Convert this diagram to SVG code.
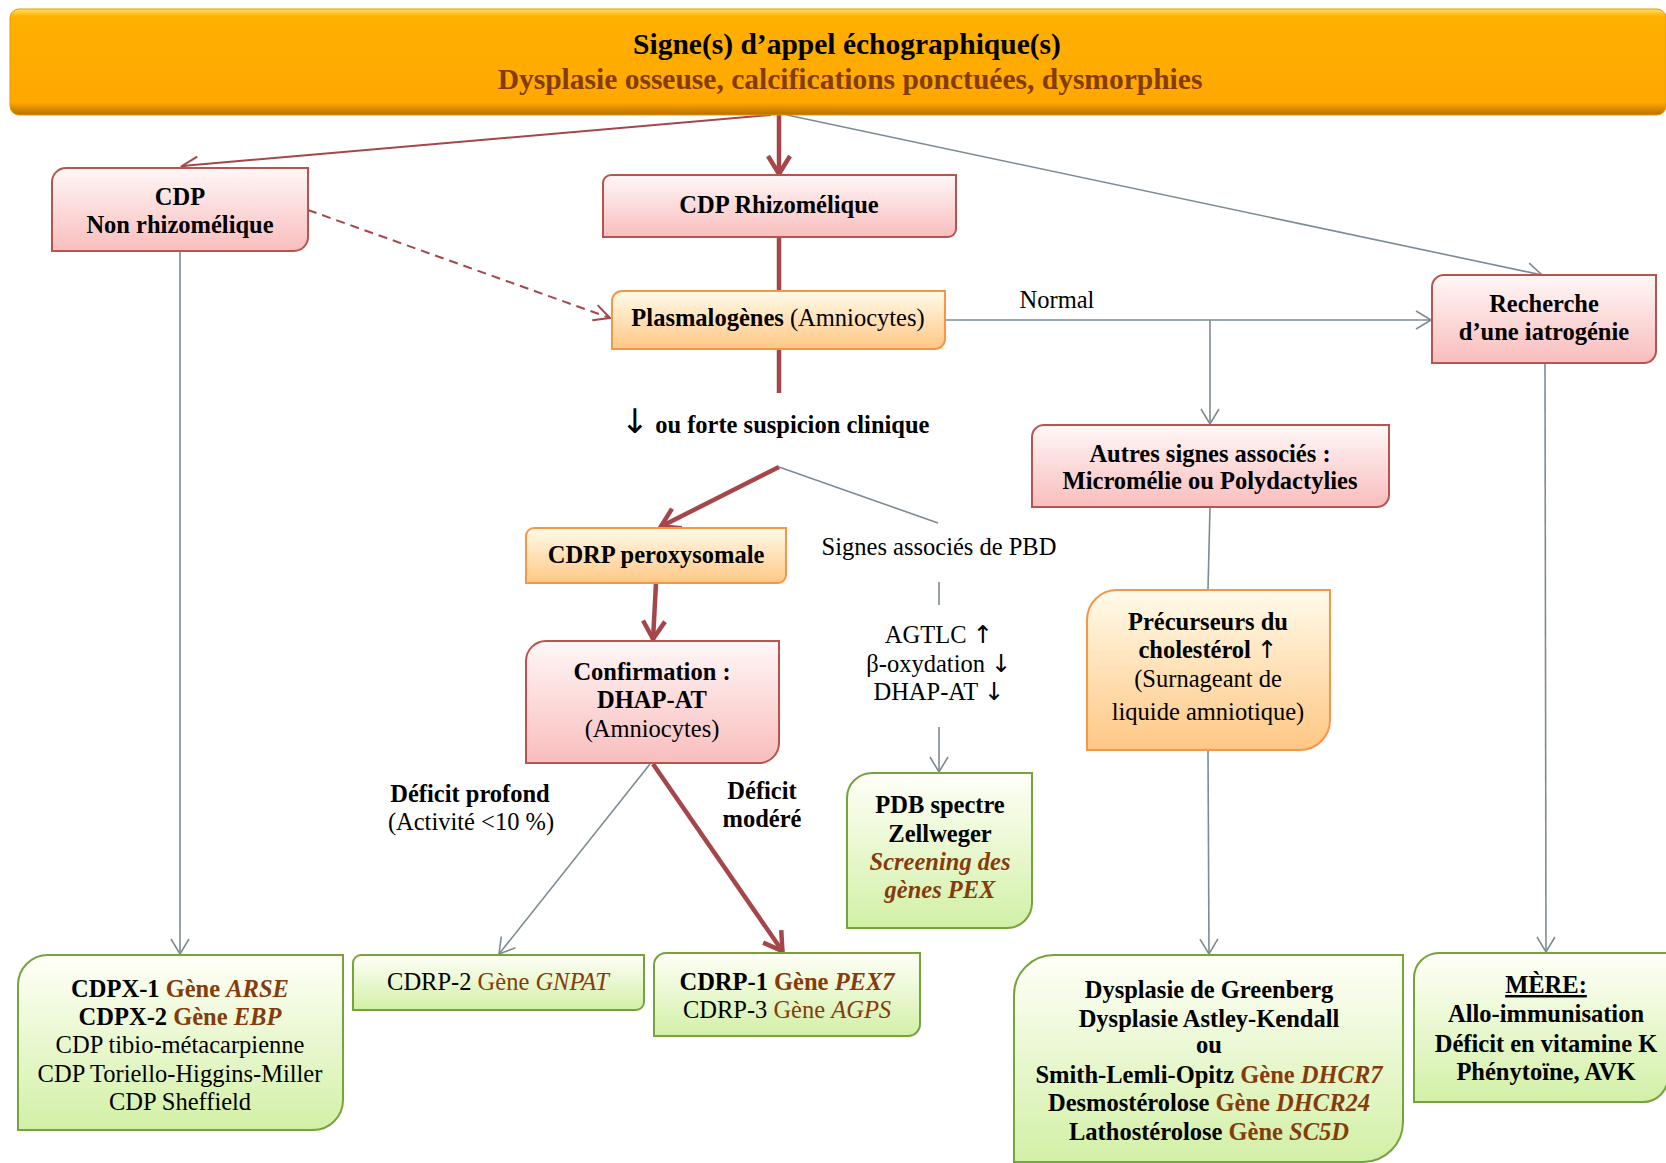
<svg xmlns="http://www.w3.org/2000/svg" width="1666" height="1163" viewBox="0 0 1666 1163">
<style>
.t{font-family:"Liberation Serif","Times New Roman",serif;font-size:24.5px;text-anchor:middle;fill:#000}
.b{font-weight:bold}
.br{fill:#843C0C}
.i{font-style:italic}
.ar{font-family:"DejaVu Sans",sans-serif;font-weight:normal}
.pink{fill:url(#pinkG);stroke:#B95350;stroke-width:2}
.orange{fill:url(#orangeG);stroke:#F79646;stroke-width:2}
.green{fill:url(#greenG);stroke:#77A33D;stroke-width:2}
.gray{stroke:#7D8B95;stroke-width:1.6;fill:none}
.redthin{stroke:#A5474A;stroke-width:2;fill:none}
.redthick{stroke:#A5474A;stroke-width:4.5;fill:none}
</style>
<defs>
<linearGradient id="pinkG" x1="0" y1="0" x2="0" y2="1"><stop offset="0" stop-color="#FFF7F7"/><stop offset="1" stop-color="#F9BDBD"/></linearGradient>
<linearGradient id="orangeG" x1="0" y1="0" x2="0" y2="1"><stop offset="0" stop-color="#FFFBEA"/><stop offset="1" stop-color="#FFC784"/></linearGradient>
<linearGradient id="greenG" x1="0" y1="0" x2="0" y2="1"><stop offset="0" stop-color="#FFFFF8"/><stop offset="1" stop-color="#D2F0A6"/></linearGradient>
<linearGradient id="bannerG" x1="0" y1="0" x2="0" y2="1"><stop offset="0" stop-color="#FFE066"/><stop offset="0.07" stop-color="#FFB000"/><stop offset="0.88" stop-color="#FFA800"/><stop offset="1" stop-color="#B86E00"/></linearGradient>
<marker id="aGray" markerUnits="userSpaceOnUse" markerWidth="20" markerHeight="22" refX="16" refY="10" orient="auto"><path d="M1,1 L16,10 L1,19" fill="none" stroke="#7D8B95" stroke-width="1.6"/></marker>
<marker id="aRed" markerUnits="userSpaceOnUse" markerWidth="22" markerHeight="22" refX="17" refY="10" orient="auto"><path d="M1,2 L17,10 L1,18" fill="none" stroke="#A5474A" stroke-width="2"/></marker>
<marker id="aRedT" markerUnits="userSpaceOnUse" markerWidth="26" markerHeight="28" refX="21" refY="13" orient="auto"><path d="M2,2 L20,13 L2,24" fill="none" stroke="#A5474A" stroke-width="4.5"/></marker>
</defs>

<g id="connectors">
<line class="redthin" x1="771" y1="115" x2="182" y2="166" marker-end="url(#aRed)"/>
<line class="redthick" x1="779" y1="115" x2="779" y2="175" marker-end="url(#aRedT)"/>
<line class="gray" x1="787" y1="115" x2="1542" y2="275" marker-end="url(#aGray)"/>
<line class="redthick" x1="779" y1="237" x2="779" y2="291"/>
<line class="redthick" x1="779" y1="349" x2="779" y2="393"/>
<line class="redthick" x1="779" y1="467" x2="660" y2="527" marker-end="url(#aRedT)"/>
<line class="gray" x1="779" y1="467" x2="938" y2="523"/>
<line class="redthick" x1="656" y1="583" x2="653" y2="640" marker-end="url(#aRedT)"/>
<line class="gray" x1="650" y1="764" x2="499" y2="954" marker-end="url(#aGray)"/>
<line class="redthick" x1="653" y1="764" x2="783" y2="952" marker-end="url(#aRedT)"/>
<line class="redthin" x1="308" y1="210" x2="610" y2="318" stroke-dasharray="9,6" marker-end="url(#aRed)"/>
<line class="gray" x1="180" y1="251" x2="180" y2="954" marker-end="url(#aGray)"/>
<line class="gray" x1="945" y1="320" x2="1431" y2="320" marker-end="url(#aGray)"/>
<line class="gray" x1="1210" y1="320" x2="1210" y2="424" marker-end="url(#aGray)"/>
<line class="gray" x1="1210" y1="507" x2="1208" y2="590"/>
<line class="gray" x1="1208" y1="750" x2="1209" y2="954" marker-end="url(#aGray)"/>
<line class="gray" x1="1545" y1="363" x2="1546" y2="952" marker-end="url(#aGray)"/>
<line class="gray" x1="939" y1="582" x2="939" y2="605"/>
<line class="gray" x1="939" y1="727" x2="939" y2="772" marker-end="url(#aGray)"/>
</g>

<g id="banner">
<rect x="10" y="9" width="1656" height="106" rx="9" fill="url(#bannerG)" stroke="#E39A00" stroke-width="1"/>
<text class="t b" x="847" y="54" style="font-size:29.5px">Signe(s) d’appel échographique(s)</text>
<text class="t b br" x="850" y="89" style="font-size:29.5px">Dysplasie osseuse, calcifications ponctuées, dysmorphies</text>
</g>

<g id="cdp-non-rhizo">
<path class="pink" d="M66,168 H308 V237 A14,14 0 0 1 294,251 H52 V182 A14,14 0 0 1 66,168 Z"/>
<text class="t b" x="180" y="205">CDP</text>
<text class="t b" x="180" y="233">Non rhizomélique</text>
</g>

<g id="cdp-rhizo">
<path class="pink" d="M611,175 H956 V229 A8,8 0 0 1 948,237 H603 V183 A8,8 0 0 1 611,175 Z"/>
<text class="t b" x="779" y="213">CDP Rhizomélique</text>
</g>

<g id="plasmalogenes">
<path class="orange" d="M622,291 H945 V339 A10,10 0 0 1 935,349 H612 V301 A10,10 0 0 1 622,291 Z"/>
<text class="t" x="778" y="326"><tspan class="b">Plasmalogènes</tspan> (Amniocytes)</text>
</g>

<g id="recherche">
<path class="pink" d="M1444,275 H1656 V351 A12,12 0 0 1 1644,363 H1432 V287 A12,12 0 0 1 1444,275 Z"/>
<text class="t b" x="1544" y="312">Recherche</text>
<text class="t b" x="1544" y="340">d’une iatrogénie</text>
</g>

<g id="label-normal">
<text class="t" x="1057" y="308">Normal</text>
</g>

<g id="label-suspicion">
<text class="t b" x="775" y="433"><tspan class="ar" style="font-size:34px">↓</tspan> ou forte suspicion clinique</text>
</g>

<g id="cdrp-peroxysomale">
<path class="orange" d="M534,528 H786 V575 A8,8 0 0 1 778,583 H526 V536 A8,8 0 0 1 534,528 Z"/>
<text class="t b" x="656" y="563">CDRP peroxysomale</text>
</g>

<g id="confirmation">
<path class="pink" d="M546,641 H779 V743 A20,20 0 0 1 759,763 H526 V661 A20,20 0 0 1 546,641 Z"/>
<text class="t b" x="652" y="680">Confirmation :</text>
<text class="t b" x="652" y="708">DHAP-AT</text>
<text class="t" x="652" y="737">(Amniocytes)</text>
</g>

<g id="label-pbd">
<text class="t" x="939" y="555">Signes associés de PBD</text>
<text class="t" x="939" y="643">AGTLC <tspan class="ar">↑</tspan></text>
<text class="t" x="939" y="672">β-oxydation <tspan class="ar">↓</tspan></text>
<text class="t" x="939" y="700">DHAP-AT <tspan class="ar">↓</tspan></text>
</g>

<g id="pdb-zellweger">
<path class="green" d="M872,773 H1032 V903 A25,25 0 0 1 1007,928 H847 V798 A25,25 0 0 1 872,773 Z"/>
<text class="t b" x="940" y="813">PDB spectre</text>
<text class="t b" x="940" y="842">Zellweger</text>
<text class="t b i br" x="940" y="870">Screening des</text>
<text class="t b i br" x="940" y="898">gènes PEX</text>
</g>

<g id="autres-signes">
<path class="pink" d="M1044,425 H1389 V495 A12,12 0 0 1 1377,507 H1032 V437 A12,12 0 0 1 1044,425 Z"/>
<text class="t b" x="1210" y="462">Autres signes associés :</text>
<text class="t b" x="1210" y="489">Micromélie ou Polydactylies</text>
</g>

<g id="precurseurs">
<path class="orange" d="M1117,590 H1330 V720 A30,30 0 0 1 1300,750 H1087 V620 A30,30 0 0 1 1117,590 Z"/>
<text class="t b" x="1208" y="630">Précurseurs du</text>
<text class="t b" x="1208" y="658">cholestérol <tspan class="ar">↑</tspan></text>
<text class="t" x="1208" y="687">(Surnageant de</text>
<text class="t" x="1208" y="720">liquide amniotique)</text>
</g>

<g id="cdpx">
<path class="green" d="M48,955 H343 V1100 A30,30 0 0 1 313,1130 H18 V985 A30,30 0 0 1 48,955 Z"/>
<text class="t b" x="180" y="997">CDPX-1 <tspan class="br">Gène <tspan class="i">ARSE</tspan></tspan></text>
<text class="t b" x="180" y="1025">CDPX-2 <tspan class="br">Gène <tspan class="i">EBP</tspan></tspan></text>
<text class="t" x="180" y="1053">CDP tibio-métacarpienne</text>
<text class="t" x="180" y="1082">CDP Toriello-Higgins-Miller</text>
<text class="t" x="180" y="1110">CDP Sheffield</text>
</g>

<g id="cdrp2">
<path class="green" d="M361,955 H644 V1002 A8,8 0 0 1 636,1010 H353 V963 A8,8 0 0 1 361,955 Z"/>
<text class="t" x="498" y="990">CDRP-2 <tspan class="br">Gène <tspan class="i">GNPAT</tspan></tspan></text>
</g>

<g id="cdrp1-3">
<path class="green" d="M666,953 H920 V1024 A12,12 0 0 1 908,1036 H654 V965 A12,12 0 0 1 666,953 Z"/>
<text class="t b" x="787" y="990">CDRP-1 <tspan class="br">Gène <tspan class="i">PEX7</tspan></tspan></text>
<text class="t" x="787" y="1018">CDRP-3 <tspan class="br">Gène <tspan class="i">AGPS</tspan></tspan></text>
</g>

<g id="label-deficit-profond">
<text class="t b" x="470" y="802">Déficit profond</text>
<text class="t" x="471" y="830">(Activité &lt;10 %)</text>
</g>

<g id="label-deficit-modere">
<text class="t b" x="762" y="799">Déficit</text>
<text class="t b" x="762" y="827">modéré</text>
</g>

<g id="dysplasies">
<path class="green" d="M1054,955 H1403 V1122 A40,40 0 0 1 1363,1162 H1014 V995 A40,40 0 0 1 1054,955 Z"/>
<text class="t b" x="1209" y="998">Dysplasie de Greenberg</text>
<text class="t b" x="1209" y="1027">Dysplasie Astley-Kendall</text>
<text class="t b" x="1209" y="1053">ou</text>
<text class="t b" x="1209" y="1083">Smith-Lemli-Opitz <tspan class="br">Gène <tspan class="i">DHCR7</tspan></tspan></text>
<text class="t b" x="1209" y="1111">Desmostérolose <tspan class="br">Gène <tspan class="i">DHCR24</tspan></tspan></text>
<text class="t b" x="1209" y="1140">Lathostérolose <tspan class="br">Gène <tspan class="i">SC5D</tspan></tspan></text>
</g>

<g id="mere">
<path class="green" d="M1439,953 H1668 V1077 A25,25 0 0 1 1643,1102 H1414 V978 A25,25 0 0 1 1439,953 Z"/>
<text class="t b" x="1546" y="993" text-decoration="underline">MÈRE:</text>
<text class="t b" x="1546" y="1022">Allo-immunisation</text>
<text class="t b" x="1546" y="1052">Déficit en vitamine K</text>
<text class="t b" x="1546" y="1080">Phénytoïne, AVK</text>
</g>
</svg>
